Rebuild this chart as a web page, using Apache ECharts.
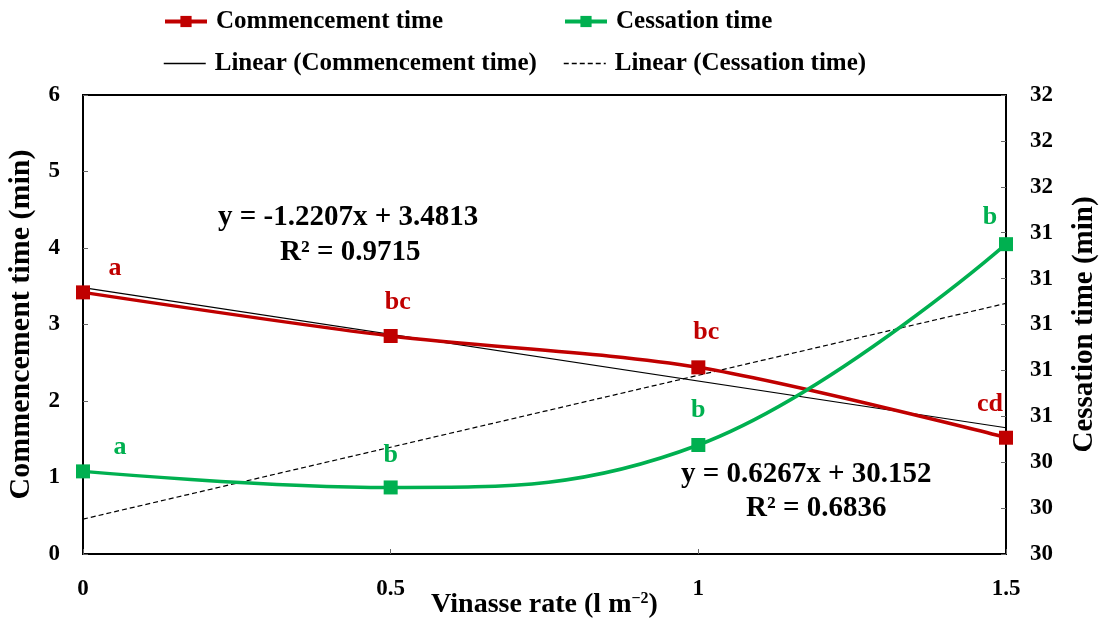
<!DOCTYPE html>
<html><head><meta charset="utf-8">
<script src="https://cdn.jsdelivr.net/npm/echarts@6/dist/echarts.min.js"></script>
<style>html,body{margin:0;padding:0;background:#fff}#c{width:1102px;height:627px}</style>
</head><body><div id="c"></div>
<script>
const rates = [0, 0.5, 1, 1.5];
const commencement = [3.42, 2.85, 2.44, 1.52];
const cessation = [30.36, 30.29, 30.475, 31.35];
const commLetters = ['a', 'bc', 'bc', 'cd'];
const cessLetters = ['a', 'b', 'b', 'b'];
const commTrend = [-1.2207, 3.4813]; // slope, intercept
const cessTrend = [0.6267, 30.152];
const rightTicks = [30, 32, 0.2];

const FONT = '"Liberation Serif", "Times New Roman", serif';
const RED = '#C00000', GREEN = '#00B050';
const chart = echarts.init(document.getElementById('c'));

const commOffsets = [[32, -24], [7, -34], [8, -35], [-16, -33]];
const cessOffsets = [[37, -24], [0, -32], [0, -35], [-16, -27]];

function pts(vals, letters, offs, color) {
  return vals.map((v, i) => ({
    value: [rates[i], v],
    label: {show: true, formatter: letters[i], position: 'inside', offset: offs[i],
      color: color, fontFamily: FONT, fontWeight: 'bold', fontSize: 26}
  }));
}
function trend(c) {
  return [rates[0], rates[rates.length - 1]].map(x => [x, c[0] * x + c[1]]);
}
const labelStyle = {fontFamily: FONT, fontWeight: 'bold', fontSize: 23, color: '#000'};
const legendText = {fontFamily: FONT, fontWeight: 'bold', fontSize: 25, color: '#000', padding: [0, 0, 0, 4]};
function leg(item, left, top, lw) {
  return {data: [item], left: left, top: top, itemWidth: 42, itemHeight: 14, itemGap: 0,
    textStyle: legendText, padding: 0, lineStyle: {width: lw}};
}

chart.setOption({
  animation: false,
  backgroundColor: '#fff',
  grid: {left: 83, right: 96, top: 95, bottom: 73, show: true, borderColor: '#000', borderWidth: 2,
    backgroundColor: 'transparent', outerBoundsMode: 'none', containLabel: false},
  legend: [
    leg('Commencement time', 163, 9, 4),
    leg('Cessation time', 563, 9, 4),
    leg({name: 'Linear (Commencement time)', itemStyle: {opacity: 0}}, 163, 51, 1.5),
    leg({name: 'Linear (Cessation time)', itemStyle: {opacity: 0}}, 563, 51, 1.5)
  ],
  xAxis: {
    type: 'value', min: 0, max: 1.5, interval: 0.5,
    axisLine: {show: false}, splitLine: {show: false},
    axisTick: {show: true, inside: true, length: 5, lineStyle: {color: '#666'}},
    axisLabel: Object.assign({margin: 24}, labelStyle),
    name: 'Vinasse rate (l m{sup|−2})', nameLocation: 'middle', nameGap: 37, nameMoveOverlap: false,
    nameTextStyle: {fontFamily: FONT, fontWeight: 'bold', fontSize: 28, color: '#000',
      rich: {sup: {fontFamily: FONT, fontWeight: 'bold', fontSize: 16, verticalAlign: 'top', padding: [0, 0, 12, 0]}}}
  },
  yAxis: [{
    type: 'value', min: 0, max: 6, interval: 1,
    axisLine: {show: false}, splitLine: {show: false},
    axisTick: {show: true, inside: true, length: 5, lineStyle: {color: '#666'}},
    axisLabel: Object.assign({margin: 23}, labelStyle),
    name: 'Commencement time (min)', nameLocation: 'middle', nameGap: 47, nameRotate: 90, nameMoveOverlap: false,
    nameTextStyle: {fontFamily: FONT, fontWeight: 'bold', fontSize: 30, color: '#000'}
  }, {
    type: 'value', min: rightTicks[0], max: rightTicks[1], interval: rightTicks[2], position: 'right',
    axisLine: {show: false}, splitLine: {show: false},
    axisTick: {show: true, inside: true, length: 5, lineStyle: {color: '#666'}},
    axisLabel: Object.assign({margin: 24, formatter: v => String(Math.round(v))}, labelStyle),
    name: 'Cessation time (min)', nameLocation: 'middle', nameGap: 64, nameRotate: 90, nameMoveOverlap: false,
    nameTextStyle: {fontFamily: FONT, fontWeight: 'bold', fontSize: 29, color: '#000'}
  }],
  series: [
    {name: 'Commencement time', type: 'line', yAxisIndex: 0, smooth: 0.3,
      data: pts(commencement, commLetters, commOffsets, RED),
      symbol: 'rect', symbolSize: 14, lineStyle: {color: RED, width: 3.5}, itemStyle: {color: RED}, z: 4},
    {name: 'Cessation time', type: 'line', yAxisIndex: 1, smooth: 0.4,
      data: pts(cessation, cessLetters, cessOffsets, GREEN),
      symbol: 'rect', symbolSize: 14, lineStyle: {color: GREEN, width: 3.5}, itemStyle: {color: GREEN}, z: 4},
    {name: 'Linear (Commencement time)', type: 'line', yAxisIndex: 0, data: trend(commTrend),
      symbol: 'none', lineStyle: {color: '#000', width: 1.2}, itemStyle: {color: '#000'}, z: 3},
    {name: 'Linear (Cessation time)', type: 'line', yAxisIndex: 1, data: trend(cessTrend),
      symbol: 'none', lineStyle: {color: '#000', width: 1.2, type: [5, 3]}, itemStyle: {color: '#000'}, z: 3}
  ],
  graphic: [
    {type: 'text', left: 218, top: 203, style: {text: 'y = -1.2207x + 3.4813', font: 'bold 29px ' + FONT, fill: '#000'}},
    {type: 'text', left: 280, top: 238, style: {text: 'R² = 0.9715', font: 'bold 29px ' + FONT, fill: '#000'}},
    {type: 'text', left: 681, top: 460, style: {text: 'y = 0.6267x + 30.152', font: 'bold 29px ' + FONT, fill: '#000'}},
    {type: 'text', left: 746, top: 494, style: {text: 'R² = 0.6836', font: 'bold 29px ' + FONT, fill: '#000'}}
  ]
});
</script></body></html>
